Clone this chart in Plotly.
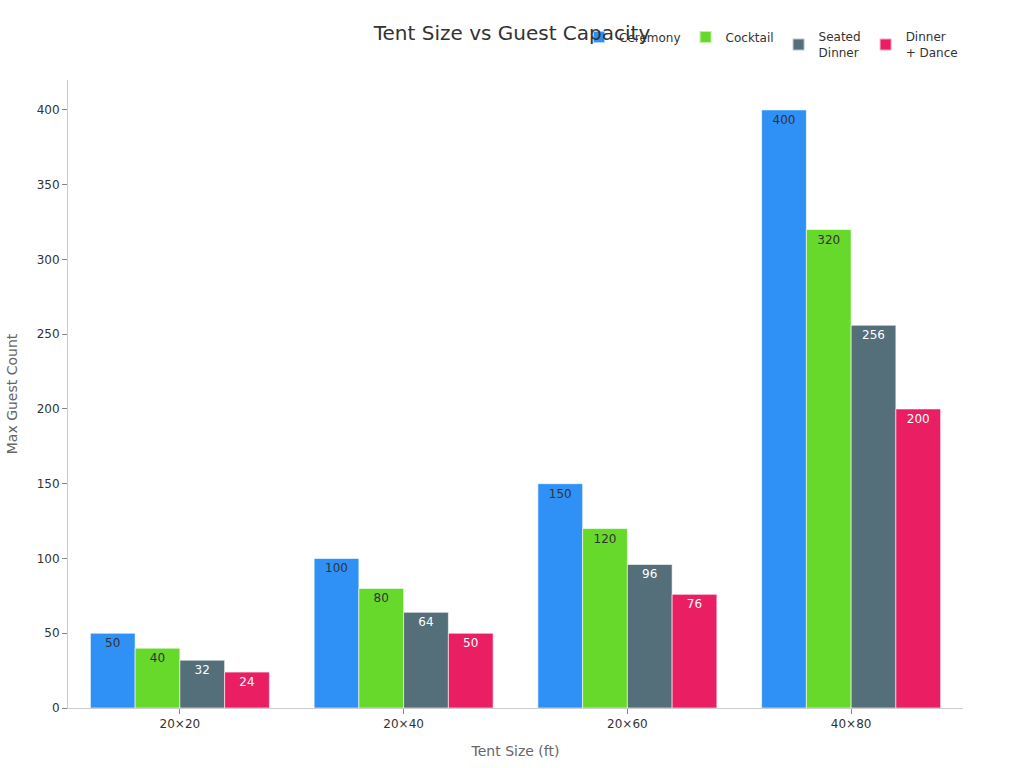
import plotly.graph_objects as go

categories = ["20×20", "20×40", "20×60", "40×80"]
series_names = ["Ceremony", "Cocktail", "Seated<br>Dinner", "Dinner<br>+ Dance"]
ceremony = [50, 100, 150, 400]
cocktail = [40, 80, 120, 320]
seated_dinner = [32, 64, 96, 256]
dinner_dance = [24, 50, 76, 200]
colors = ["#2F91F5", "#66D92A", "#546E7A", "#E91E63"]
text_colors = ["#333", "#333", "white", "white"]

fig = go.Figure()
for name, vals, col, tcol in zip(series_names, [ceremony, cocktail, seated_dinner, dinner_dance], colors, text_colors):
    fig.add_trace(go.Bar(
        x=categories, y=vals, name=name,
        marker=dict(color=col, line=dict(color="rgba(255,255,255,0.6)", width=1)),
        text=vals, textposition="inside", insidetextanchor="end",
        textfont=dict(size=12, family="DejaVu Sans", color=tcol),
        cliponaxis=False,
    ))

fig.update_layout(
    width=1024, height=768,
    margin=dict(l=68, r=61, t=80, b=60),
    paper_bgcolor="white", plot_bgcolor="white",
    barmode="group", bargap=0.2, bargroupgap=0,
    font=dict(family="DejaVu Sans", size=12, color="#333"),
    title=dict(text="Tent Size vs Guest Capacity", x=0.5, xanchor="center", y=0.957, yanchor="middle",
               font=dict(size=20, color="#333")),
    legend=dict(orientation="h", x=1, xanchor="right", y=1.02, yanchor="bottom",
                font=dict(size=12, color="#333"), itemsizing="constant"),
    uniformtext=dict(mode="show", minsize=12),
)
fig.update_xaxes(showline=True, linecolor="#ccc", linewidth=1, ticks="outside", tickcolor="#888", ticklen=5,
                 title=dict(text="Tent Size (ft)", font=dict(size=14, color="#666")), showgrid=False)
fig.update_yaxes(range=[0, 420], showline=True, linecolor="#ccc", linewidth=1, ticks="outside", tickcolor="#888",
                 ticklen=5, dtick=50, showgrid=False, zeroline=False,
                 title=dict(text="Max Guest Count", font=dict(size=14, color="#666")))

fig.write_html("out.html")
